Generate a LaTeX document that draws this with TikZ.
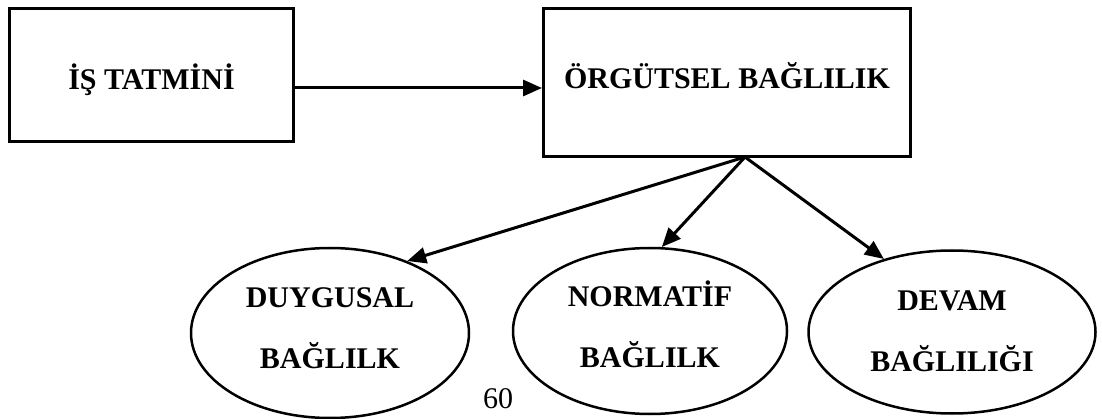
\documentclass[tikz,border=0pt]{standalone}
\usepackage{fontspec}
\setmainfont{Liberation Serif}
\usetikzlibrary{shapes.geometric,arrows.meta}
\begin{document}
\begin{tikzpicture}[x=1pt,y=-1pt,
  box/.style={draw,line width=3pt,rectangle,inner sep=0pt,font=\fontsize{30}{36}\selectfont\bfseries},
  oval/.style={draw,line width=2.5pt,ellipse,inner sep=0pt,align=center,font=\fontsize{30}{61}\selectfont\bfseries},
  arr/.style={line width=3pt,-{Triangle[length=19pt,width=16pt]}}]
\useasboundingbox (0,0) rectangle (1102,419);
\node[box,minimum width=284pt,minimum height=133pt,text height=30pt,text depth=0pt] (b1) at (151.5,75) {İŞ TATMİNİ};
\node[box,minimum width=367pt,minimum height=148pt,text height=13pt,text depth=0pt] (b2) at (727,82.5) {ÖRGÜTSEL BAĞLILIK};
\node[oval,minimum width=278pt,minimum height=170pt] (e1) at (330,333) {\rule{0pt}{25pt}DUYGUSAL\\BAĞLILK\rule[-16pt]{0pt}{16pt}};
\node[oval,minimum width=274pt,minimum height=166pt] (e2) at (650,331) {\rule{0pt}{25pt}NORMATİF\\BAĞLILK\rule[-14pt]{0pt}{14pt}};
\node[oval,minimum width=287pt,minimum height=163pt] (e3) at (952,332) {\rule{0pt}{25pt}DEVAM\\BAĞLILIĞI\rule[-8pt]{0pt}{8pt}};
\node[font=\fontsize{30}{36}\selectfont,anchor=base] (pg) at (498,408) {60};
\coordinate (h) at (0,88);
\coordinate (apex) at (745,157);
\draw[arr] (b1.east |- h) -- (b2.west |- h);
\draw[arr] (apex) -- (e1.43);
\draw[arr] (apex) -- (e2.82);
\draw[arr] (apex) -- (e3.133);
\end{tikzpicture}
\end{document}
